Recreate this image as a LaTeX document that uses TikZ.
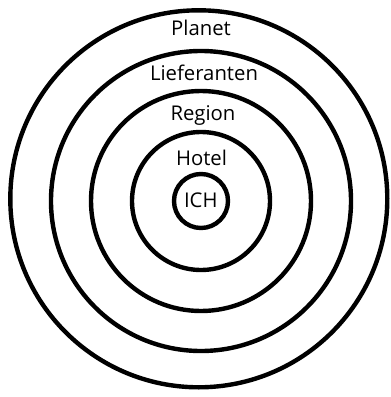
\documentclass[tikz,border=0pt]{standalone}
\usepackage{fontspec}
\setmainfont{Open Sans}
\begin{document}
\begin{tikzpicture}[x=1pt,y=-1pt,
  ring/.style={circle,draw=black,line width=4.4pt,inner sep=0pt},
  lbl/.style={anchor=base,inner sep=0pt,font=\fontsize{20.3}{24}\selectfont}]
\useasboundingbox (0,0) rectangle (391,397);
\node[ring,minimum size=377pt] (planet) at (198.8,198.8) {};
\node[ring,minimum size=300pt] (lief) at (201,201) {};
\node[ring,minimum size=220pt] (region) at (201,201) {};
\node[ring,minimum size=138pt] (hotel) at (201,201) {};
\node[ring,minimum size=54pt] (ich) at (201,201) {};
\node[lbl] (tplanet) at (201,35.7) {Planet};
\node[lbl] (tlief) at (204,80) {Lieferanten};
\node[lbl] (tregion) at (203,120) {Region};
\node[lbl] (thotel) at (201.5,165) {Hotel};
\node[lbl] (tich) at (200.8,207.3) {ICH};
\end{tikzpicture}
\end{document}
